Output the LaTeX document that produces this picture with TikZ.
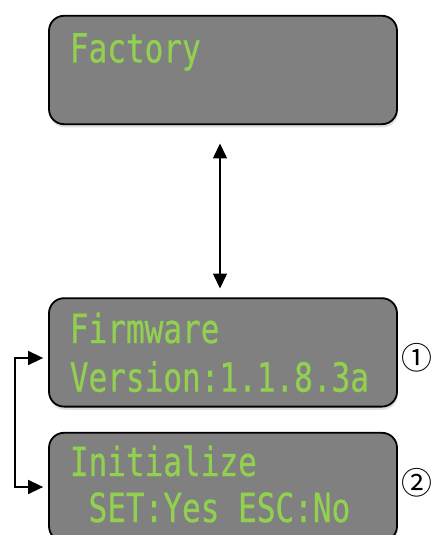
\documentclass[tikz,border=0pt]{standalone}
\usepackage{fontspec}
\usetikzlibrary{arrows.meta,calc,shadows}
\newfontfamily\lcdfont[FakeStretch=0.775,FakeBold=0.6]{DejaVu Sans Mono}
\newfontfamily\markfont{Noto Sans CJK JP}
\definecolor{lcdgreen}{RGB}{146,208,80}
\definecolor{lcdgray}{RGB}{128,128,128}
\tikzset{
	lcdbox/.style={draw=black, line width=0.045cm, fill=lcdgray, rounded corners=0.375cm, minimum width=8.7cm, minimum height=2.71cm, inner sep=0pt, drop shadow={shadow xshift=0.02cm, shadow yshift=-0.08cm, opacity=0.25}},
	lcdtext/.style={anchor=base west, inner sep=0pt, text=lcdgreen, font=\lcdfont\fontsize{28.5}{30}\selectfont},
	marktext/.style={inner sep=0pt, font=\markfont\fontsize{22}{26}\selectfont},
	link/.style={line width=0.038cm, {Triangle[length=0.375cm,width=0.35cm]}-{Triangle[length=0.375cm,width=0.35cm]}}
}

\begin{document}
\begin{tikzpicture}
		%%%%% START %%%%%
		
		\useasboundingbox (0, 0) rectangle (10.825, -13.375);
		
		% display screens
		\node[lcdbox] (factory) at (5.575, -1.75) {};
		\node[lcdbox] (firmware) at (5.575, -8.81) {};
		\node[lcdbox] (initialize) at (5.575, -12.175) {};
		
		\node[lcdtext] (factoryline) at (1.74, -1.56) {Factory};
		\node[lcdtext] (firmwareline) at (1.74, -8.575) {Firmware};
		\node[lcdtext] (versionline) at (1.74, -9.79) {Version:1.1.8.3a};
		\node[lcdtext] (initline) at (1.74, -11.9) {Initialize};
		\node[lcdtext] (setline) at (1.74, -13.05) {\ SET:Yes ESC:No};
		
		\node[marktext] (markone) at (10.43, -8.95) {①};
		\node[marktext] (marktwo) at (10.43, -12.075) {②};
		
		% arrows
		\draw[link, shorten <=0.46cm, shorten >=0.22cm] ([xshift=-0.075cm]factory.south) -- ([xshift=-0.075cm]firmware.north);
		\draw[link, shorten <=0.125cm, shorten >=0.125cm] ([yshift=-0.14cm]firmware.west) -- ++(-0.825, 0) |- (initialize.west);
		
		%%%%% END %%%%%
	\end{tikzpicture}
\end{document}
